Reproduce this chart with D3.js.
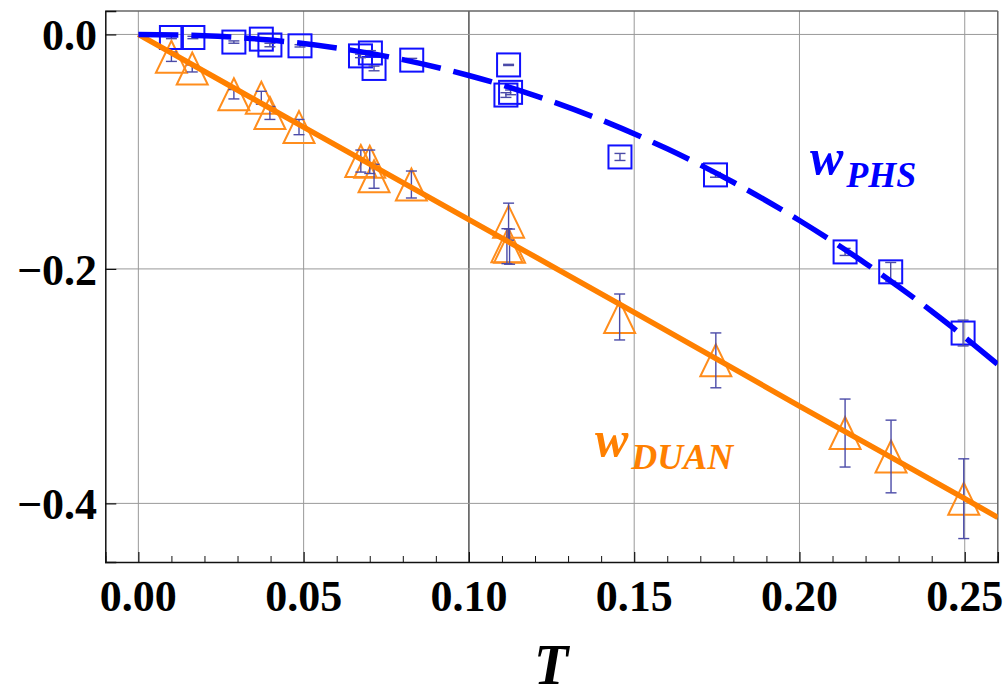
<!DOCTYPE html>
<html><head><meta charset="utf-8">
<script src="https://cdn.jsdelivr.net/npm/d3@7"></script>
<style>html,body{margin:0;padding:0;background:#fff;}svg{display:block;}</style>
</head><body>
<svg id="chart" width="1007" height="698"></svg>
<script>
// ---- data ----
const xTicks = [0.00, 0.05, 0.10, 0.15, 0.20, 0.25];
const xTickLabels = ["0.00", "0.05", "0.10", "0.15", "0.20", "0.25"];
const yTicks = [0.0, -0.2, -0.4];
const yTickLabels = ["0.0", "\u22120.2", "\u22120.4"];

// PHS data (squares)
const phsT   = [0.0100, 0.0165, 0.0289, 0.0372, 0.0398, 0.0489, 0.0672, 0.0702, 0.0713, 0.0827, 0.1120, 0.1126, 0.1112, 0.1457, 0.1746, 0.2138, 0.2276, 0.2495];
const phsW   = [-0.0026, -0.0026, -0.0065, -0.0040, -0.0090, -0.0097, -0.0183, -0.0158, -0.0290, -0.0219, -0.0260, -0.0494, -0.0517, -0.1045, -0.1198, -0.1855, -0.2025, -0.2547];
const phsErr = [0.001, 0.001, 0.001, 0.001, 0.0015, 0.001, 0.0015, 0.002, 0.002, 0.0015, 0.0005, 0.002, 0.002, 0.003, 0.002, 0.003, 0.008, 0.011];

// DUAN data (triangles)
const duanT   = [0.0100, 0.0163, 0.0289, 0.0372, 0.0398, 0.0486, 0.0673, 0.0700, 0.0713, 0.0826, 0.1120, 0.1115, 0.1123, 0.1456, 0.1747, 0.2138, 0.2277, 0.2497];
const duanW   = [-0.019, -0.029, -0.051, -0.054, -0.067, -0.079, -0.108, -0.1086, -0.121, -0.128, -0.1597, -0.1806, -0.181, -0.241, -0.278, -0.340, -0.360, -0.396];
const duanErr = [0.004, 0.003, 0.004, 0.0055, 0.0055, 0.0065, 0.0094, 0.010, 0.0102, 0.0115, 0.0158, 0.0149, 0.015, 0.0196, 0.0234, 0.029, 0.031, 0.034];

// fitted curves
const phsFitT = [0, 0.02, 0.04, 0.06, 0.08, 0.10, 0.12, 0.14, 0.16, 0.18, 0.20, 0.22, 0.24, 0.26];
const phsFitW = [0, -0.0011, -0.0048, -0.0115, -0.0215, -0.035, -0.0521, -0.0729, -0.0976, -0.1261, -0.1587, -0.1953, -0.2361, -0.2814];
const duanFitT = [0, 0.05, 0.10, 0.15, 0.20, 0.25, 0.26];
const duanFitW = [0, -0.079, -0.158, -0.237, -0.317, -0.396, -0.412];

// ---- drawing ----
const svg = d3.select("#chart");
const L = 105.3, R = 997.8, T = 11, B = 562;
const x = d3.scaleLinear().domain([-0.01, 0.26]).range([L, R]);
const y = d3.scaleLinear().domain([-0.45, 0.02]).range([B, T]);

const font = "'Liberation Serif', 'Times New Roman', serif";

// gridlines
const grid = svg.append("g");
grid.selectAll("line.gx").data(xTicks).join("line")
  .attr("x1", d => x(d)).attr("x2", d => x(d)).attr("y1", T).attr("y2", B)
  .attr("stroke", d => Math.abs(d - 0.10) < 1e-9 ? "#444" : "#999")
  .attr("stroke-width", d => Math.abs(d - 0.10) < 1e-9 ? 1.4 : 1);
grid.selectAll("line.gy").data(yTicks).join("line")
  .attr("x1", L).attr("x2", R).attr("y1", d => y(d)).attr("y2", d => y(d))
  .attr("stroke", "#999").attr("stroke-width", 1);

// frame (top/right)
svg.append("line").attr("x1", L).attr("x2", R).attr("y1", T).attr("y2", T).attr("stroke", "#666").attr("stroke-width", 1.5);
svg.append("line").attr("x1", R).attr("x2", R).attr("y1", T).attr("y2", B).attr("stroke", "#666").attr("stroke-width", 1.5);

// axes
const xAxis = d3.axisBottom(x).tickValues(xTicks).tickSize(-10).tickFormat("");
const gx = svg.append("g").attr("transform", `translate(0,${B})`).call(xAxis);
gx.select(".domain").attr("stroke", "#111").attr("stroke-width", 1.5);
gx.selectAll(".tick line").attr("stroke", "#111").attr("stroke-width", 1.2);
const minorX = d3.range(-0.01, 0.2601, 0.01).filter(v => !xTicks.some(t => Math.abs(t - v) < 1e-6));
const gxm = svg.append("g").attr("transform", `translate(0,${B})`)
  .call(d3.axisBottom(x).tickValues(minorX).tickSize(-6).tickFormat(""));
gxm.select(".domain").remove();
gxm.selectAll(".tick line").attr("stroke", "#111").attr("stroke-width", 1);

const gy = svg.append("g").attr("transform", `translate(${L},0)`)
  .call(d3.axisLeft(y).tickValues(yTicks).tickSize(-11).tickFormat(""));
gy.select(".domain").attr("stroke", "#111").attr("stroke-width", 1.5);
gy.selectAll(".tick line").attr("stroke", "#111").attr("stroke-width", 1.2);

// tick labels
svg.append("g").selectAll("text").data(xTicks).join("text")
  .attr("x", d => x(d)).attr("y", 611)
  .attr("text-anchor", "middle")
  .attr("font-family", font).attr("font-weight", "bold").attr("font-size", 44)
  .text((d, i) => xTickLabels[i]);
svg.append("g").selectAll("text").data(yTicks).join("text")
  .attr("x", 97).attr("y", d => y(d) + 16)
  .attr("text-anchor", "end")
  .attr("font-family", font).attr("font-weight", "bold").attr("font-size", 44)
  .text((d, i) => yTickLabels[i]);

// axis title
svg.append("text").attr("x", 551).attr("y", 684).attr("text-anchor", "middle")
  .attr("font-family", font).attr("font-weight", "bold").attr("font-style", "italic")
  .attr("font-size", 56).text("T");

// markers
const plot = svg.append("g");
const tri = (cx, cy) => `M${cx},${cy - 16}L${cx + 15.5},${cy + 16}L${cx - 15.5},${cy + 16}Z`;
plot.selectAll("path.tri").data(duanT).join("path")
  .attr("d", (d, i) => tri(x(d), y(duanW[i])))
  .attr("fill", "none").attr("stroke", "#ff8d1c").attr("stroke-width", 2);
plot.selectAll("rect.sq").data(phsT).join("rect")
  .attr("x", (d) => x(d) - 11.5).attr("y", (d, i) => y(phsW[i]) - 11.5)
  .attr("width", 23).attr("height", 23)
  .attr("fill", "none").attr("stroke", "#1010ff").attr("stroke-width", 2);

// error bars
function errBars(ts, ws, es) {
  const g = svg.append("g").attr("stroke", "#4b4ba8").attr("stroke-width", 1.4);
  ts.forEach((t, i) => {
    const cx = x(t), y1 = y(ws[i] + es[i]), y2 = y(ws[i] - es[i]);
    g.append("line").attr("x1", cx).attr("x2", cx).attr("y1", y1).attr("y2", y2);
    g.append("line").attr("x1", cx - 5.5).attr("x2", cx + 5.5).attr("y1", y1).attr("y2", y1);
    g.append("line").attr("x1", cx - 5.5).attr("x2", cx + 5.5).attr("y1", y2).attr("y2", y2);
  });
}
errBars(duanT, duanW, duanErr);
errBars(phsT, phsW, phsErr);

// fit lines
const clip = svg.append("clipPath").attr("id", "clip").append("rect")
  .attr("x", L).attr("y", T).attr("width", R - L).attr("height", B - T);
const line = d3.line().x(d => x(d[0])).y(d => y(d[1])).curve(d3.curveMonotoneX);
svg.append("path").attr("clip-path", "url(#clip)")
  .attr("d", line(duanFitT.map((t, i) => [t, duanFitW[i]])))
  .attr("fill", "none").attr("stroke", "#ff8000").attr("stroke-width", 5.5);
svg.append("path").attr("clip-path", "url(#clip)")
  .attr("d", line(phsFitT.map((t, i) => [t, phsFitW[i]])))
  .attr("fill", "none").attr("stroke", "#0000ff").attr("stroke-width", 5.5)
  .attr("stroke-dasharray", "40,13");

// series labels
function seriesLabel(xw, yb, sub, ysub, color) {
  const t = svg.append("text").attr("font-family", font).attr("font-weight", "bold")
    .attr("font-style", "italic").attr("fill", color);
  t.append("tspan").attr("x", xw).attr("y", yb).attr("font-size", 50).text("w");
  t.append("tspan").attr("dx", 3).attr("y", ysub).attr("font-size", 36).text(sub);
}
seriesLabel(810, 174, "PHS", 187, "#0000ff");
seriesLabel(595, 456, "DUAN", 469, "#ff8000");
</script>
</body></html>
